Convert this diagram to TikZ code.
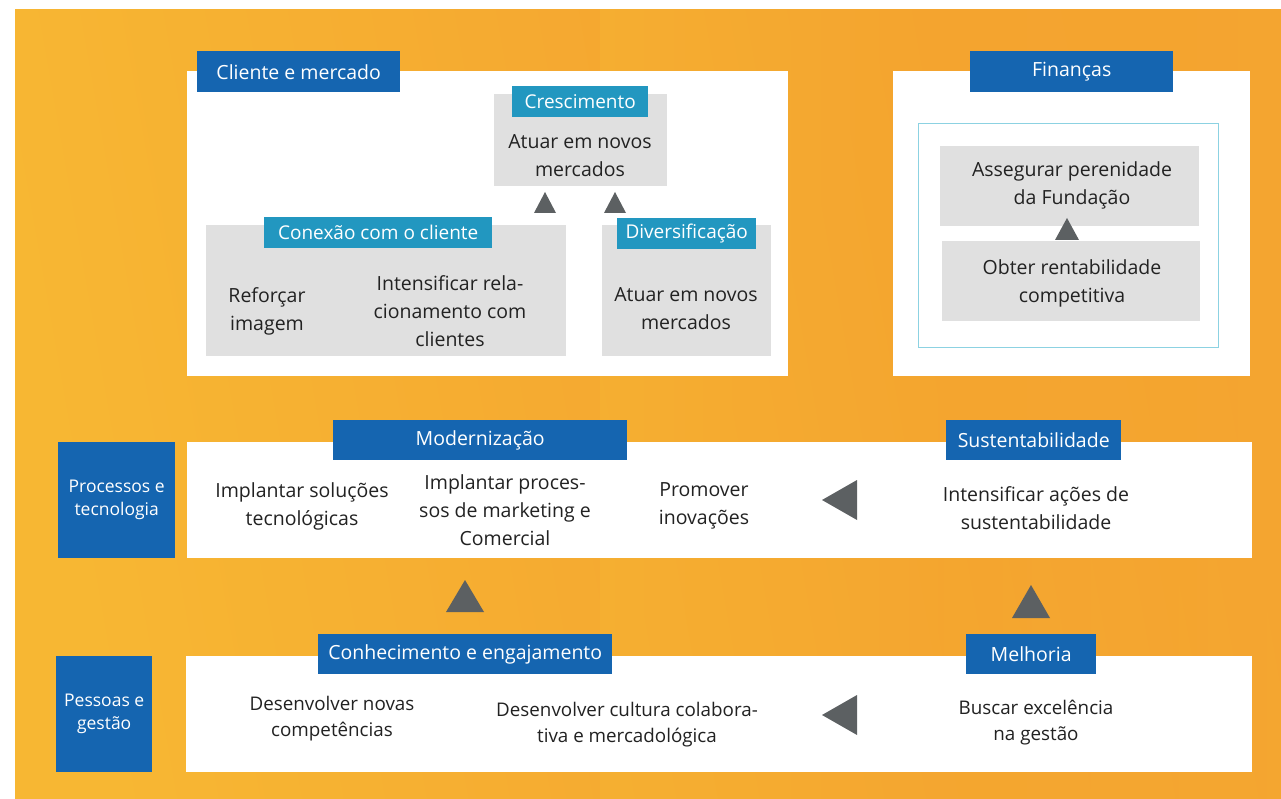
\documentclass[tikz,border=0pt]{standalone}
\usepackage{fontspec}
\setmainfont{Open Sans}
\usetikzlibrary{positioning}
\definecolor{bgL}{HTML}{F7B733}
\definecolor{bgR}{HTML}{F39A2E}
\definecolor{navy}{HTML}{1565B0}
\definecolor{teal}{HTML}{2297C0}
\definecolor{greybox}{HTML}{E0E0E0}
\definecolor{tri}{HTML}{5C6062}
\definecolor{txt}{HTML}{222222}
\definecolor{frame}{HTML}{8CD2E2}
\tikzset{
  lbl/.style={fill=navy,text=white,font=\fontsize{19.5}{22}\selectfont,inner sep=0pt,anchor=north west},
  tlbl/.style={fill=teal,text=white,font=\fontsize{19}{22}\selectfont,inner sep=0pt,anchor=north west},
  body/.style={text=txt,align=center,font=\fontsize{19.5}{28}\selectfont,inner sep=0pt},
  bodys/.style={text=txt,align=center,font=\fontsize{18.8}{26}\selectfont,inner sep=0pt},
  side/.style={fill=navy,text=white,align=center,font=\fontsize{17.5}{23}\selectfont,inner sep=0pt,anchor=north west},
  trif/.style={fill=tri}
}
\newcommand{\bx}[5]{\node[#1,minimum width=#4pt,minimum height=#5pt] at (#2,#3)}
\begin{document}
\begin{tikzpicture}[x=1pt,y=-1pt]
\useasboundingbox (0,0) rectangle (1281,799);
\fill[white] (0,0) rectangle (1281,799);
\shade[left color=bgL,right color=bgR,shading angle=100] (15,10) rectangle (1281,799);
\shade[left color=bgL, right color=bgL, middle color=bgL!60!bgR, opacity=0.4] (600,10) rectangle (1281,799);
% Cliente e mercado
\fill[white] (187,71) rectangle (788,376);
\bx{lbl}{197}{51}{203}{41} (cm) {Cliente e mercado};
\fill[greybox] (494,94) rectangle (667,186);
\bx{tlbl}{512}{86}{136}{31} (cr) {Crescimento};
\node[body] (crt) at (580,156) {Atuar em novos\\mercados};
\fill[trif] (534,213) -- (545,192) -- (556,213) -- cycle;
\fill[trif] (604,213) -- (615,192) -- (626,213) -- cycle;
\fill[greybox] (206,225) rectangle (566,356);
\bx{tlbl}{264}{217}{228}{31} (cx) {Conexão com o cliente};
\node[body] (rf) at (267,311) {Reforçar\\imagem};
\node[body] (ir) at (450,311) {Intensificar rela-\\cionamento com\\clientes};
\fill[greybox] (602,225) rectangle (771,356);
\bx{tlbl}{617}{218}{139}{31} (dv) {Diversificação};
\node[body] (dvt) at (686,309) {Atuar em novos\\mercados};
% Financas
\fill[white] (893,71) rectangle (1250,376);
\bx{lbl}{970}{51}{203}{41} (fn) {Finanças};
\draw[frame,line width=1pt] (918,124) rectangle (1218,347);
\fill[greybox] (940,146) rectangle (1199,226);
\node[body] (as) at (1072,185) {Assegurar perenidade\\da Fundação};
\fill[greybox] (942,241) rectangle (1200,321);
\node[body] (ob) at (1072,283) {Obter rentabilidade\\competitiva};
\fill[trif] (1055,240) -- (1067,218) -- (1079,240) -- cycle;
% Processos e tecnologia
\bx{side}{58}{442}{117}{116} (pt) {Processos e\\tecnologia};
\fill[white] (187,442) rectangle (1252,558);
\bx{lbl}{333}{420}{294}{40} (md) {Modernização};
\bx{lbl}{946}{420}{175}{40} (su) {Sustentabilidade};
\node[body] (is) at (302,506) {Implantar soluções\\tecnológicas};
\node[body] (ip) at (505,510) {Implantar proces-\\sos de marketing e\\Comercial};
\node[body] (pi) at (704,506) {Promover\\inovações};
\node[body] (ia) at (1036,508) {Intensificar ações de\\sustentabilidade};
\fill[trif] (857,480) -- (822,500) -- (857,520) -- cycle;
% arrows between rows
\fill[trif] (446,612) -- (465,580) -- (484,612) -- cycle;
\fill[trif] (1012,618) -- (1031,585) -- (1050,618) -- cycle;
% Pessoas e gestao
\bx{side}{56}{656}{96}{116} (pg) {Pessoas e\\gestão};
\fill[white] (186,656) rectangle (1252,772);
\bx{lbl}{318}{634}{294}{40} (ce) {Conhecimento e engajamento};
\bx{lbl}{966}{634}{130}{40} (me) {Melhoria};
\node[bodys] (dn) at (332,719) {Desenvolver novas\\competências};
\node[bodys] (dc) at (627,725) {Desenvolver cultura colabora-\\tiva e mercadológica};
\node[bodys] (be) at (1036,723) {Buscar excelência\\na gestão};
\fill[trif] (857,695) -- (822,715) -- (857,735) -- cycle;
\end{tikzpicture}
\end{document}
